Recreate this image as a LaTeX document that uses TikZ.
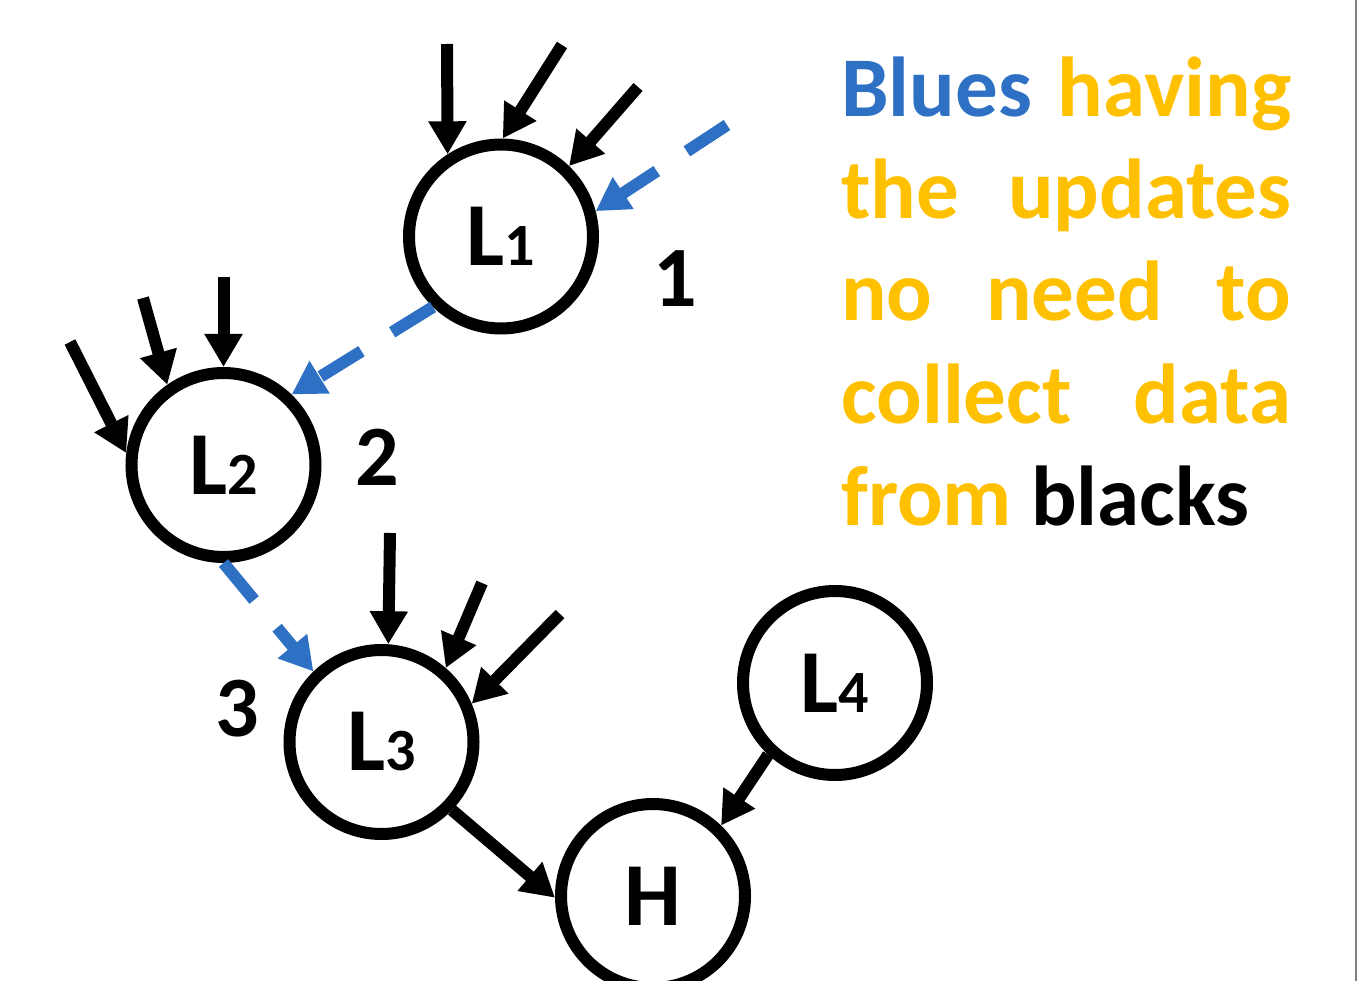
\documentclass[tikz,border=0pt]{standalone}
\usepackage{fontspec}
\setmainfont{Carlito}
\usetikzlibrary{arrows.meta}
\definecolor{myblue}{RGB}{46,112,196}
\definecolor{myyellow}{RGB}{255,192,0}
\begin{document}
\begin{tikzpicture}[x=1pt,y=-1pt,
  ring/.style={circle, draw=black, line width=12pt, minimum size=184pt, inner sep=0pt,
    font=\bfseries\fontsize{90}{90}\selectfont},
  feed/.style={line width=12pt, -{Triangle[width=36pt,length=33pt]}},
  bluefeed/.style={feed, draw=myblue, dash pattern=on 48pt off 36pt},
  lbl/.style={font=\bfseries\fontsize{86}{86}\selectfont, inner sep=0pt},
  txt/.style={font=\bfseries\fontsize{85}{85}\selectfont, inner sep=0pt, anchor=base west, text=myyellow}
]
\useasboundingbox (0,0) rectangle (1357,981);
\clip (0,0) rectangle (1357,981);
\draw[gray, line width=1.5pt] (1356,0) -- (1356,981);

% nodes
\node[ring] (L1) at (501,236.5) {L\fontsize{60}{60}\selectfont 1};
\node[ring] (L2) at (223.5,465) {L\fontsize{60}{60}\selectfont 2};
\node[ring] (L3) at (381.5,742) {L\fontsize{60}{60}\selectfont 3};
\node[ring] (L4) at (835,683) {L\fontsize{60}{60}\selectfont 4};
\node[ring] (H) at (653,896) {H};

% number labels
\node[lbl] (n1) at (675,279) {1};
\node[lbl] (n2) at (377,457) {2};
\node[lbl] (n3) at (237,709) {3};

% free ends of incoming arrows
\coordinate (a1) at (447,44);
\coordinate (a2) at (562,45);
\coordinate (a3) at (638,87);
\coordinate (a4) at (727,125);
\coordinate (b1) at (223.5,277);
\coordinate (b2) at (143,298);
\coordinate (b3) at (70,342);
\coordinate (c1) at (390,533);
\coordinate (c2) at (482,583);
\coordinate (c3) at (560,614);

\draw[feed] (a1) -- (L1.123);
\draw[feed] (a2) -- (L1.89);
\draw[feed] (a3) -- (L1.46);
\draw[bluefeed] (a4) -- (L1.15);

\draw[feed] (b1) -- (L2.90);
\draw[feed] (b2) -- (L2.125);
\draw[feed] (b3) -- (L2.173);
\draw[bluefeed] (L1.226) -- (L2.46);

\draw[feed] (c1) -- (L3.86);
\draw[feed] (c2) -- (L3.49);
\draw[feed] (c3) -- (L3.23);
\draw[bluefeed] (L2.270) -- (L3.134);

\draw[feed] (L3.316) -- (H.181);
\draw[feed] (L4.227) -- (H.46);

% text
\node[txt] (t1) at (841,117) {\makebox[450pt]{\textcolor{myblue}{Blues}\hfill having}};
\node[txt] (t2) at (841,219) {\makebox[450pt]{the\hfill updates}};
\node[txt] (t3) at (841,321) {\makebox[450pt]{no\hfill need\hfill to}};
\node[txt] (t4) at (841,423) {\makebox[450pt]{collect\hfill data}};
\node[txt] (t5) at (841,525) {from \textcolor{black}{blacks}};
\end{tikzpicture}
\end{document}
